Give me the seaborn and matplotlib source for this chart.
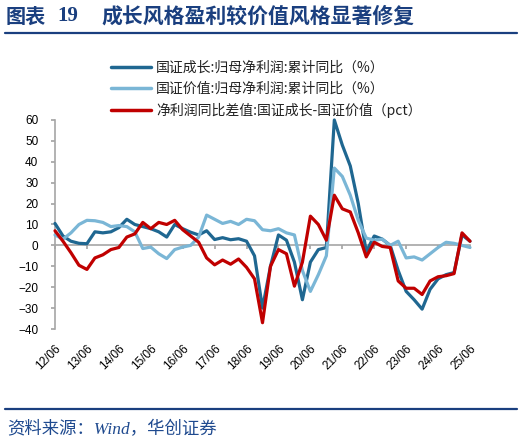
import numpy as np
import pandas as pd
import matplotlib
matplotlib.use("Agg")
import matplotlib.pyplot as plt
import seaborn as sns
from matplotlib.lines import Line2D

# quarterly cumulative yoy, 12/06 .. 25/06
years = ["12/06", "13/06", "14/06", "15/06", "16/06", "17/06", "18/06",
         "19/06", "20/06", "21/06", "22/06", "23/06", "24/06", "25/06"]

growth = [10.5, 4.5, 2, 1, 0.8, 6.5, 6, 6.5, 8.5, 12.5,
          10, 9, 8, 6.5, 4, 10, 8, 6.3, 5, 7,
          2.8, 3.7, 2.7, 3.2, 2, -5, -30, -10, 5, 2.5,
          -8, -26, -8, -2, -1, 60, 48, 38, 20, -3,
          4.5, 3, 0, -12, -22, -26, -30.5, -21, -16, -14,
          -13, 5, 2]
value = [5, 3, 6, 10, 12, 11.8, 11, 9, 9.5, 9,
         6.5, -1.5, -0.8, -4, -6.3, -2, -0.8, 0, 4, 14.5,
         12.5, 10.5, 11.5, 10, 12.5, 11.8, 7.5, 7, 8, 6,
         5, -12, -22, -14, -5, 37, 33, 24, 12, 3.5,
         2.5, 3, 0, 2, -6, -5.5, -7, -4, -1, 1.5,
         1, 0, -1]
diff = [7, 2, -3.5, -9.5, -11.5, -6, -4.5, -2, -1, 4,
        5.5, 11, 8, 11, 10, 12, 7.5, 4.5, 1.5, -6,
        -9.3, -7, -9, -6.5, -10.5, -16, -37, -10, -2, -4,
        -19.5, -8, 14, 10, 2.5, 24, 17.5, 16, 6, -5.5,
        1.5, -0.5, -1, -17, -20.5, -20.5, -23.5, -17, -15, -14.5,
        -13.5, 6, 2]

names = ["国证成长:归母净利润:累计同比（%）",
         "国证价值:归母净利润:累计同比（%）",
         "净利润同比差值:国证成长-国证价值（pct）"]
colors = ["#1f6791", "#7ab6d6", "#c00000"]
title_c = "#1a3f7f"
grey = "#a6a6a6"

df = pd.DataFrame({"idx": np.arange(len(growth)),
                   names[0]: growth, names[1]: value, names[2]: diff})
long = df.melt(id_vars="idx", var_name="series", value_name="v")

sns.set_theme(style="white")
plt.rcParams["font.family"] = ["Liberation Sans", "Noto Sans CJK SC"]

fig = plt.figure(figsize=(5.24, 4.44), dpi=100)
ax = fig.add_axes([55 / 524, 1 - 329 / 444, (470 - 55) / 524, (329 - 120) / 444])

sns.lineplot(data=long, x="idx", y="v", hue="series", hue_order=names,
             palette=colors, linewidth=2.3, ax=ax, zorder=3, clip_on=False,
             solid_joinstyle="round", solid_capstyle="round")

handles, labels = ax.get_legend_handles_labels()
ax.get_legend().remove()

ax.set_xlim(0, len(growth) - 1)
ax.set_ylim(-40, 60)
ax.set_yticks(range(-40, 61, 10))
ax.set_xlabel("")
ax.set_ylabel("")

tick_pos = np.arange(0, len(growth), 4)
ax.set_xticks(tick_pos)
ax.tick_params(axis="x", bottom=True, direction="out", length=3, color=grey,
               labelbottom=False)
ax.tick_params(axis="y", left=True, direction="out", length=3, color=grey,
               pad=9, labelsize=8.5, labelcolor="#000000")
for s in ["top", "right"]:
    ax.spines[s].set_visible(False)
ax.spines["bottom"].set_position(("data", 0))
ax.spines["bottom"].set_color(grey)
ax.spines["left"].set_color(grey)
ax.spines["bottom"].set_linewidth(1.2)
ax.spines["left"].set_linewidth(1.2)

sec = ax.secondary_xaxis("bottom")
sec.set_xticks(tick_pos, labels=years)
sec.spines["bottom"].set_visible(False)
sec.tick_params(axis="x", length=0, pad=10, labelsize=8.5, labelcolor="#000000")
plt.setp(sec.get_xticklabels(), rotation=45, ha="right", rotation_mode="anchor")

leg = fig.legend(handles, labels, loc="upper left",
                 bbox_to_anchor=(111 / 524, 1 - 61 / 444),
                 frameon=False, prop={"family": ["Noto Sans CJK SC"], "size": 10},
                 handlelength=2.9, handletextpad=0.35, labelspacing=0.5,
                 borderaxespad=0, borderpad=0)
for t in leg.get_texts():
    t.set_color("#222222")
for h in leg.get_lines():
    h.set_linewidth(2.5)

# header and footer
fig.text(6 / 524, 1 - 16 / 444, "图表", fontsize=14.5, weight="bold",
         color=title_c, va="center", family=["Noto Sans CJK SC"])
fig.text(57 / 524, 1 - 16 / 444, "19", fontsize=15, weight="bold",
         color=title_c, va="center", family=["Liberation Serif"])
fig.text(101 / 524, 1 - 16 / 444, "成长风格盈利较价值风格显著修复", fontsize=15,
         weight="bold", color=title_c, va="center", family=["Noto Sans CJK SC"])
fig.add_artist(Line2D([5 / 524, 517 / 524], [1 - 33 / 444] * 2, color=title_c, lw=1.6))
fig.add_artist(Line2D([5 / 524, 517 / 524], [1 - 409 / 444] * 2, color=title_c, lw=1.6))
fig.text(7 / 524, 1 - 430 / 444, "资料来源：Wind，华创证券", fontsize=12.5,
         style="italic", color="#1f4a8f", va="center",
         family=["Liberation Serif", "Noto Sans CJK SC"])

fig.savefig("out.png", dpi=100)
